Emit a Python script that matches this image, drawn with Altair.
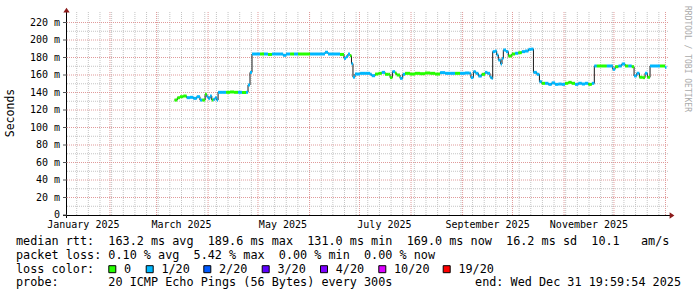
import altair as alt
import pandas as pd

# ---------------- data (days since 2025-01-01, median rtt in ms, loss class) ----------------
day = [
    69.8, 71.5, 73.1, 75.1, 77.1, 79.1, 81.1, 83.2, 85.1, 86.5, 88.2, 89.2, 90.1, 91.2, 92.2, 93.1, 94.2, 95.2,
    96.0, 98.4, 100.8, 103.2, 105.6, 108.0, 110.4, 112.8,
    114.0, 115.2,
    116.4, 118.8, 121.2, 123.6, 126.0, 128.4, 130.8, 133.3, 135.1, 136.9, 139.3, 141.7, 144.1, 146.5,
    148.9, 151.3, 153.7, 156.1, 158.5, 160.3, 162.1, 164.5, 166.9, 169.3,
    171.7, 172.9, 174.1, 175.3, 176.2, 177.1,
    178.3, 181.4, 184.4, 187.4, 188.4, 190.4, 192.4, 194.4, 196.4, 198.4, 199.4, 200.8, 202.4, 203.4, 205.4,
    207.0, 208.4, 211.4, 214.4, 217.4, 220.4, 223.5, 226.5, 229.5, 232.5, 235.5, 238.5, 241.5, 244.5, 247.1,
    248.0, 249.5, 250.9, 252.5, 254.5, 256.5, 257.9, 259.5, 260.5,
    261.1, 262.5, 263.5, 264.5, 265.9, 266.7, 267.5, 269.1, 270.5, 272.6, 274.6, 276.5, 278.6, 280.6, 282.6, 284.2,
    285.6, 287.6, 289.2, 290.6,
    292.6, 294.6, 296.6, 298.6, 300.6, 302.6, 304.6, 306.6, 308.6, 310.6, 312.6, 314.7, 316.6, 318.6, 320.7,
    322.2, 323.7, 326.7, 329.7, 331.7, 333.3, 334.7, 336.7, 338.7, 340.7, 342.7, 344.7,
    346.1, 347.7, 349.3, 351.3, 352.7, 354.1,
    355.7, 358.7, 361.7, 364.7,
]
median_ms = [
    131.4, 134.0, 135.2, 136.0, 134.1, 134.5, 133.3, 135.2, 131.4, 131.4, 137.9, 135.2, 133.3, 136.0, 131.4, 132.2, 134.1, 131.4,
    140.2, 140.2, 140.2, 140.6, 140.2, 140.2, 140.0, 140.2,
    148.6, 163.0,
    184.0, 184.0, 184.0, 184.0, 183.5, 184.0, 184.0, 184.0, 182.5, 184.0, 184.0, 184.0, 184.0, 184.0,
    184.0, 184.0, 184.0, 184.0, 184.0, 186.0, 184.0, 184.0, 184.0, 183.5,
    179.0, 181.0, 184.0, 182.0, 173.0, 157.5,
    161.1, 161.9, 161.9, 160.8, 159.2, 161.1, 161.9, 163.0, 160.8, 160.8, 157.0, 163.8, 161.9, 160.0, 156.2,
    160.8, 161.9, 161.1, 161.9, 161.5, 162.3, 161.9, 161.1, 162.7, 161.9, 161.9, 161.9, 161.9, 162.3, 161.9,
    157.0, 163.8, 161.9, 158.8, 160.8, 163.0, 161.9, 157.4, 156.0,
    186.7, 187.4, 182.9, 177.1, 172.6, 179.0, 188.6, 186.7, 181.7, 184.0, 184.8, 185.5, 186.7, 187.4, 189.3, 189.6,
    163.0, 160.8, 152.4, 150.5,
    150.5, 149.3, 151.0, 149.3, 149.7, 149.3, 150.5, 151.6, 150.5, 149.3, 150.5, 149.7, 150.5, 149.3, 150.5,
    170.3, 170.3, 170.3, 170.3, 170.3, 166.5, 169.5, 170.3, 172.6, 170.3, 170.3, 169.5,
    158.9, 162.0, 157.4, 157.0, 162.0, 157.4,
    170.3, 170.3, 170.3, 169.0,
]
G, C = "0", "1/20"
loss = [
    G, G, G, G, C, C, C, C, C, G, G, C, C, C, G, C, C, C,
    C, C, G, G, G, C, G, C,
    C, C,
    C, C, G, C, G, C, C, C, C, C, G, C, G, G,
    G, C, C, C, C, C, C, C, C, G,
    C, C, C, G, C, C,
    C, C, C, C, C, G, G, C, G, G, G, C, G, G, C,
    C, G, G, G, G, G, G, G, C, C, C, G, C, C, C,
    C, C, C, C, G, C, C, C, C,
    C, C, C, C, C, C, C, C, G, G, C, G, C, C, C, C,
    C, C, C, G,
    C, C, C, C, C, C, G, G, G, C, C, C, C, G, C,
    C, G, G, C, C, C, G, C, C, G, C, G,
    C, C, G, G, C, G,
    C, C, G, C,
]
assert len(day) == len(median_ms) == len(loss)

loss_labels = ["0", "1/20", "2/20", "3/20", "4/20", "10/20", "19/20"]
loss_colors = ["#26ff00", "#00b8ff", "#0059ff", "#5e00ff", "#7e00ff", "#dd00ff", "#ff0000"]

y_major = [0, 20, 40, 60, 80, 100, 120, 140, 160, 180, 200, 220]
y_minor = [10, 30, 50, 70, 90, 110, 130, 150, 170, 190, 210]
month_starts = [31, 59, 90, 120, 151, 181, 212, 243, 273, 304, 334, 365]
week_starts = list(range(11, 366, 7))
month_label_days = [15, 74, 135, 196, 258, 319]
month_labels = ["January 2025", "March 2025", "May 2025", "July 2025", "September 2025", "November 2025"]

stat_rtt = "median rtt:  163.2 ms avg  189.6 ms max  131.0 ms min  169.0 ms now  16.2 ms sd  10.1   am/s"
stat_loss = "packet loss: 0.10 % avg  5.42 % max  0.00 % min  0.00 % now"
probe_text = "probe:       20 ICMP Echo Pings (56 Bytes) every 300s"
end_text = "end: Wed Dec 31 19:59:54 2025"

# ---------------- layout ----------------
W, H = 601, 203
PADL, PADT = 67, 12
MONO = "DejaVu Sans Mono"
xs = alt.Scale(domain=[5.17, 366.5], nice=False, zero=False)
ys = alt.Scale(domain=[0, 232], nice=False, zero=False)


def nb(s):
    return s.replace(" ", "\u00a0")


one = alt.Data(values=[{"a": 1}])
layers = []

# grids
grey = "#c4c4c4"
red = "#e09a9a"
layers.append(alt.Chart(pd.DataFrame({"v": week_starts})).mark_rule(color=grey, strokeDash=[1, 1], strokeWidth=1).encode(
    x=alt.X("v:Q", scale=xs, axis=None), y=alt.value(0), y2=alt.value(H)))
layers.append(alt.Chart(pd.DataFrame({"v": y_minor})).mark_rule(color=grey, strokeDash=[1, 1], strokeWidth=1).encode(
    y=alt.Y("v:Q", scale=ys, axis=None), x=alt.value(0), x2=alt.value(W)))
layers.append(alt.Chart(pd.DataFrame({"v": month_starts})).mark_rule(color=red, strokeDash=[1, 1], strokeWidth=1).encode(
    x=alt.X("v:Q", scale=xs, axis=None), y=alt.value(0), y2=alt.value(H)))
layers.append(alt.Chart(pd.DataFrame({"v": y_major[1:]})).mark_rule(color=red, strokeDash=[1, 1], strokeWidth=1).encode(
    y=alt.Y("v:Q", scale=ys, axis=None), x=alt.value(0), x2=alt.value(W)))

# data
df = pd.DataFrame({"d": day, "ms": median_ms, "loss": loss})
df["d2"] = df["d"].shift(-1).fillna(df["d"].iloc[-1] + 0.9)

layers.append(alt.Chart(df).mark_line(interpolate="step-after", color="#1a1a1a", strokeWidth=1).encode(
    x=alt.X("d:Q", scale=xs, axis=None), y=alt.Y("ms:Q", scale=ys, axis=None)))
layers.append(alt.Chart(df).mark_rule(strokeWidth=3, strokeCap="butt").encode(
    x=alt.X("d:Q", scale=xs, axis=None), x2="d2:Q",
    y=alt.Y("ms:Q", scale=ys, axis=None),
    color=alt.Color("loss:N", scale=alt.Scale(domain=loss_labels, range=loss_colors), legend=None)))

# axes lines and ticks
layers.append(alt.Chart(one).mark_rule(color="black", strokeWidth=1).encode(
    x=alt.value(-4), x2=alt.value(W + 2), y=alt.value(H + 0.5)))
layers.append(alt.Chart(one).mark_rule(color="black", strokeWidth=1).encode(
    x=alt.value(-0.5), y=alt.value(0), y2=alt.value(H + 3)))
layers.append(alt.Chart(pd.DataFrame({"v": y_major})).mark_rule(color="#555555", strokeWidth=1).encode(
    y=alt.Y("v:Q", scale=ys, axis=None), x=alt.value(-4), x2=alt.value(0)))
arrow = "#8b1a1a"
layers.append(alt.Chart(one).mark_point(shape="M0,-0.75L1,0.75L-1,0.75Z", size=40, filled=True, opacity=1, color=arrow).encode(
    x=alt.value(-0.5), y=alt.value(-1.8)))
layers.append(alt.Chart(one).mark_point(shape="M0.75,0L-0.75,1L-0.75,-1Z", size=40, filled=True, opacity=1, color=arrow).encode(
    x=alt.value(W + 4), y=alt.value(H + 0.5)))

# tick labels
ylab = pd.DataFrame({"v": y_major, "t": [nb(f"{v} m") if v else nb("0  ") for v in y_major]})
layers.append(alt.Chart(ylab).mark_text(font=MONO, fontSize=10, align="right", baseline="middle", color="black").encode(
    y=alt.Y("v:Q", scale=ys, axis=None), x=alt.value(-7), text="t:N"))
xlab = pd.DataFrame({"v": month_label_days, "t": [nb(s) for s in month_labels]})
layers.append(alt.Chart(xlab).mark_text(font=MONO, fontSize=10, align="center", baseline="alphabetic", color="black").encode(
    x=alt.X("v:Q", scale=xs, axis=None), y=alt.value(228 - PADT), text="t:N"))


def label(txt, X, Y, size=11.8, align="left", baseline="alphabetic", **kw):
    return alt.Chart(one).mark_text(text=nb(txt), font=MONO, fontSize=size, align=align, baseline=baseline, **kw).encode(
        x=alt.value(X - PADL), y=alt.value(Y - PADT))


layers.append(label("Seconds", 10.5, 113, size=11.5, align="center", baseline="middle", angle=270, color="black"))
layers.append(label("RRDTOOL / TOBI OETIKER", 687, 59, size=8, align="center", baseline="middle", angle=90, color="#aaaaaa"))

layers.append(label(stat_rtt, 16, 245.4, color="black"))
layers.append(label(stat_loss, 16, 259.0, color="black"))
layers.append(label("loss color:", 16, 272.6, color="black"))
layers.append(label(probe_text, 16, 286.2, color="black"))
layers.append(label(end_text, 681, 286.2, align="right", color="black"))

swatch_left = [108.3, 145.7, 203.3, 261.7, 320.0, 378.3, 442.7]
for sx, lab, col in zip(swatch_left, loss_labels, loss_colors):
    layers.append(alt.Chart(one).mark_square(size=49, color=col, stroke="black", strokeWidth=1, opacity=1).encode(
        x=alt.value(sx + 4 - PADL), y=alt.value(269.2 - PADT)))
    layers.append(label(lab, sx + 15.7, 272.6, color="black"))

chart = alt.layer(*layers).properties(
    width=W, height=H,
    padding={"left": PADL, "top": PADT, "right": 697 - PADL - W, "bottom": 297 - PADT - H},
    autosize=alt.AutoSizeParams(type="none"),
    background="white",
).configure_view(strokeWidth=0)

chart.save("out.html", embed_options={"renderer": "svg", "actions": False})
